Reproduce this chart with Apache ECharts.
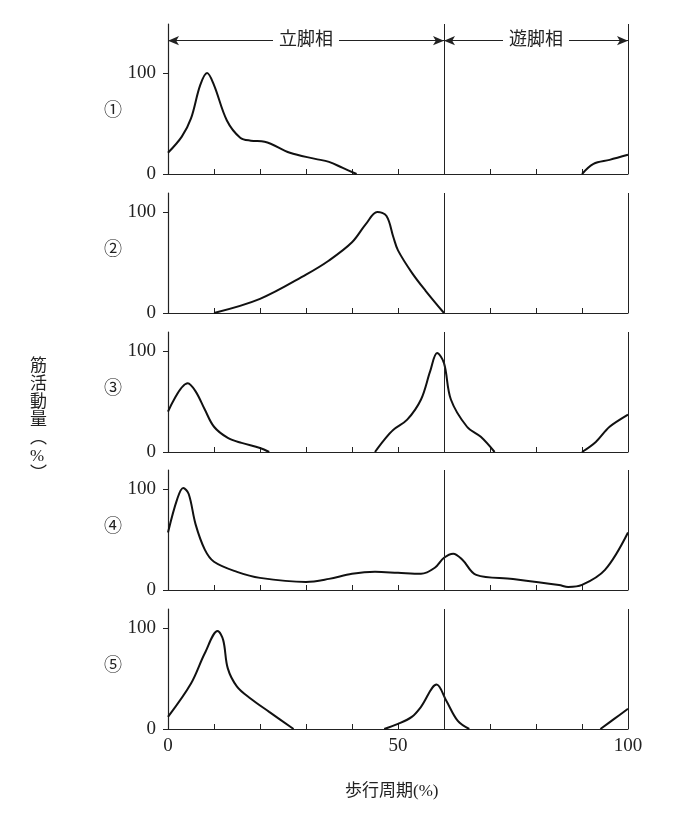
<!DOCTYPE html>
<html>
<head>
<meta charset="utf-8">
<script src="https://cdn.jsdelivr.net/npm/echarts@6/dist/echarts.min.js"></script>
<style>html,body{margin:0;background:#fff}#chart{width:688px;height:825px}</style>
</head>
<body>
<div id="chart"></div>
<script>
(function () {
    // muscle activity curves, [gait cycle %, activity %], null = gap
    var muscle1 = [[0,21],[3,37],[5,55],[7,88],[8.5,100],[10,88],[12.8,53],[15.7,36],[18,33],[21,32],[26.5,21],[32,15],[35,12],[38,6],[41,0],[null,null],[90,0],[92.5,10],[96,14],[100,19]];
    var muscle2 = [[10,0],[20,14],[30,38],[35,52],[40,70],[43,88],[45.5,100],[47.5,96],[49,75],[50,62],[53,40],[56,22],[60,0]];
    var muscle3 = [[0,40],[4.3,68],[6,60],[8,42],[10,25],[13,14],[16,9],[20,4],[22,0],[null,null],[45,0],[47,12],[49,22],[52,32],[55,52],[57,80],[58.5,98],[60,88],[61.5,52],[65,25],[68,15],[71,0],[null,null],[90,0],[93,10],[96,25],[100,37]];
    var muscle4 = [[0,57],[2,90],[3.3,101],[4.5,95],[6,65],[8,40],[10,28],[15,18],[20,12],[30,8],[35,11],[40,16],[45,18],[50,17],[55,16],[58,22],[60,32],[62,36],[64,30],[67,15],[75,11],[85,5],[87,3],[90,5],[95,20],[100,57]];
    var muscle5 = [[0,12],[5,45],[8,75],[10.8,97],[12,88],[13,60],[15,42],[18,30],[22,17],[27.3,0],[null,null],[47,0],[50,5],[53,12],[55,22],[58.4,44],[60.5,28],[63,8],[65.5,0],[null,null],[94,0],[97,10],[100,20]];
    var panels = [muscle1, muscle2, muscle3, muscle4, muscle5];
    var panelNames = ['①', '②', '③', '④', '⑤'];
    var xTickLabels = [0, 50, 100];
    var yTickLabels = [0, 100];
    var phases = [['立脚相', 0, 60], ['遊脚相', 60, 100]];

    var font = '"Liberation Serif", "Noto Sans CJK JP", serif';
    var ink = '#222';
    var bottoms = [174, 313, 452, 590, 729];
    var pxPer = 1.01;

    var grids = [], xAxes = [], yAxes = [], series = [], graphics = [];
    panels.forEach(function (data, i) {
        var top = i === 0 ? 24 : bottoms[i] - 120;
        var ymax = (bottoms[i] - top) / pxPer;
        grids.push({ left: 168, right: 60, top: top, height: bottoms[i] - top });
        xAxes.push({
            type: 'value', gridIndex: i, min: 0, max: 100, interval: 10,
            axisLine: { lineStyle: { color: ink, width: 1.2 } },
            axisTick: { inside: true, length: 5, lineStyle: { color: ink } },
            axisLabel: { show: i === 4, customValues: xTickLabels, color: ink, fontSize: 19, fontFamily: font, margin: 8 },
            splitLine: { show: false }
        });
        yAxes.push({
            type: 'value', gridIndex: i, min: 0, max: ymax,
            axisLine: { show: true, lineStyle: { color: ink, width: 1.2 } },
            axisTick: { show: true, customValues: yTickLabels, length: 5, lineStyle: { color: ink } },
            axisLabel: { customValues: yTickLabels, color: ink, fontSize: 19, fontFamily: font, margin: 12 },
            splitLine: { show: false }
        });
        var markData = [
            [{ coord: [60, 0], symbol: 'none' }, { coord: [60, ymax], symbol: 'none' }],
            [{ coord: [100, 0], symbol: 'none' }, { coord: [100, ymax], symbol: 'none' }]
        ];
        if (i === 0) {
            phases.forEach(function (p) {
                markData.push([
                    { coord: [p[1], 132], symbol: 'arrow', symbolSize: [7, 11], name: p[0] },
                    { coord: [p[2], 132], symbol: 'arrow', symbolSize: [7, 11] }
                ]);
            });
        }
        series.push({
            type: 'line', xAxisIndex: i, yAxisIndex: i, data: data,
            smooth: 0.35, showSymbol: false, connectNulls: false,
            lineStyle: { color: '#111', width: 2 },
            markLine: {
                silent: true, animation: false, symbol: 'none',
                lineStyle: { color: ink, width: 1, type: 'solid' },
                label: {
                    show: true, position: 'insideMiddle', distance: 0, color: ink, fontSize: 18, fontFamily: font,
                    backgroundColor: '#fff', padding: [0, 6],
                    formatter: function (pr) { return pr.name || ''; }
                },
                data: markData
            }
        });
        graphics.push({
            type: 'text', left: 104, top: bottoms[i] - 72,
            style: { text: panelNames[i], fontSize: 18, fontFamily: font, fill: ink }
        });
    });

    graphics.push({
        type: 'text', left: 30, top: 358,
        style: { text: '筋\n活\n動\n量\n︵\n%\n︶', fontSize: 17, lineHeight: 18, fontFamily: font, fill: ink, align: 'center' }
    });
    graphics.push({
        type: 'text', left: 345, top: 783,
        style: { text: '歩行周期(%)', fontSize: 17, fontFamily: font, fill: ink }
    });

    var myChart = echarts.init(document.getElementById('chart'));
    myChart.setOption({
        animation: false,
        backgroundColor: '#fff',
        grid: grids,
        xAxis: xAxes,
        yAxis: yAxes,
        series: series,
        graphic: graphics
    });
    window.addEventListener('resize', function () { myChart.resize(); });
})();
</script>
</body>
</html>
